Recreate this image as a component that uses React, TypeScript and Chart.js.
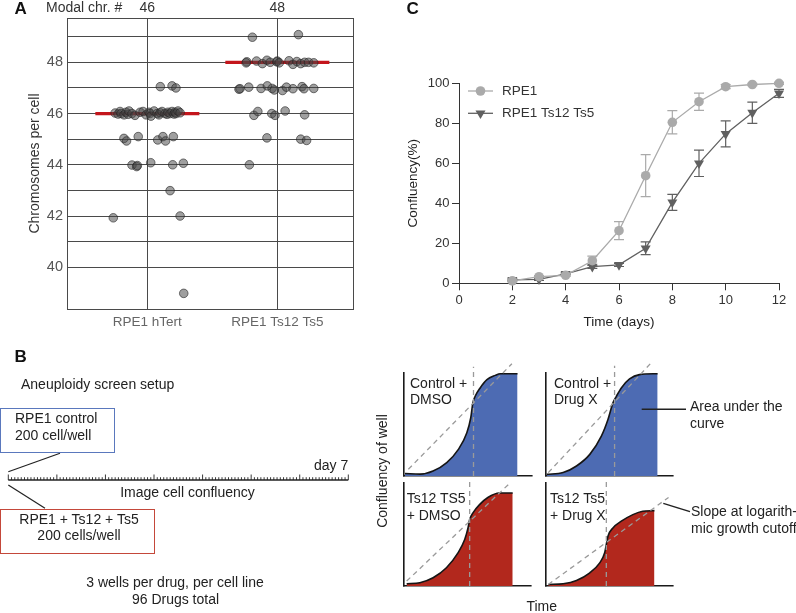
import React, { useEffect, useRef } from 'react';
import { Chart, registerables } from 'chart.js';

Chart.register(...registerables);

const FONT = '"Liberation Sans", Arial, Helvetica, sans-serif';

// ---------------- Panel A data ----------------
const categoriesA = ['RPE1 hTert', 'RPE1 Ts12 Ts5'];
const modalChromosomes = [46, 48];
const medianHalfWidth = [0.4, 0.4];
const yRangeA = [38.37, 49.73];
const xRangeA = [-0.618, 1.582];

const hTertChromosomes = [
  47.05, 47.08, 47.0,
  46.02, 45.98, 46.08, 46.0, 45.95, 46.05, 45.97, 46.1, 46.0, 45.93, 46.05, 46.08, 45.95, 46.05, 46.0, 45.9,
  46.1, 46.0, 45.95, 46.03, 46.08, 46.0, 45.97, 46.05, 46.0, 46.08, 45.98, 46.05, 46.0, 46.1, 46.03,
  45.03, 44.93, 45.1, 44.97, 45.1, 44.93, 45.1,
  43.99, 43.93, 43.97, 44.08, 44.0, 44.06,
  42.99,
  41.93, 42.0,
  38.98,
];
const hTertJitter = [
  0.1, 0.19, 0.22,
  -0.248, -0.225, -0.21, -0.202, -0.179, -0.164, -0.148, -0.141, -0.118, -0.095, -0.056, -0.033, -0.01, 0.013, 0.021, 0.028,
  0.052, 0.075, 0.09, 0.098, 0.113, 0.136, 0.152, 0.159, 0.175, 0.19, 0.205, 0.213, 0.221, 0.236, 0.252,
  -0.18, -0.16, -0.07, 0.08, 0.12, 0.14, 0.2,
  -0.118, -0.082, -0.077, 0.026, 0.195, 0.277,
  0.175,
  -0.262, 0.252,
  0.28,
];

const tsChromosomes = [
  48.98, 49.08,
  48.02, 47.98, 48.05, 47.95, 48.08, 48.0, 48.02, 48.05, 47.98, 48.06, 47.92, 48.03, 47.95, 48.0, 48.0, 47.98,
  46.95, 46.97, 47.03, 46.98, 47.08, 46.98, 46.92, 46.9, 47.03, 46.97, 47.05, 46.97, 46.98,
  45.93, 46.08, 46.0, 45.93, 46.1, 45.95,
  45.05, 45.0, 44.95,
  44.0,
];
const tsJitter = [
  -0.192, 0.162,
  -0.235, -0.24, -0.16, -0.115, -0.08, -0.055, -0.005, 0.0, 0.015, 0.09, 0.12, 0.15, 0.18, 0.21, 0.24, 0.28,
  -0.295, -0.287, -0.22, -0.125, -0.077, -0.04, -0.023, 0.04, 0.07, 0.12, 0.19, 0.205, 0.28,
  -0.18, -0.15, -0.043, -0.018, 0.06, 0.21,
  -0.08, 0.18, 0.225,
  -0.215,
];

// ---------------- Panel C data ----------------
const days = [2, 3, 4, 5, 6, 7, 8, 9, 10, 11, 12];
const rpe1Mean = [1.2, 3.3, 4.0, 11.3, 26.3, 53.8, 80.5, 90.8, 98.3, 99.4, 100];
const rpe1Err = [0.5, 0.5, 0.6, 2.3, 4.5, 10.5, 5.8, 4.3, 1.0, 0.6, 0.5];
const tsMean = [1.7, 2.0, 4.7, 8.3, 9.2, 17.5, 40.5, 60.0, 74.7, 85.3, 95.0];
const tsErr = [0.5, 0.5, 0.5, 0.8, 0.8, 3.2, 4.0, 6.6, 6.5, 5.3, 2.0];
const seriesC = ['RPE1', 'RPE1 Ts12 Ts5'];

// ---------------- Panel B (right) schematic curves ----------------
const ctrlDmsoTime = [0.08, 1.25, 2.27, 3.34, 4.25, 4.91, 5.22, 5.38, 5.56, 5.95, 6.48, 7.13, 7.52, 8.87];
const ctrlDmsoConf = [2.5, 1.8, 4.8, 13.0, 25.8, 42.0, 56.8, 71.0, 77.4, 85.5, 93.5, 97.7, 99.3, 99.3];
const ctrlDrugTime = [0.05, 1.35, 2.4, 3.45, 4.36, 4.88, 5.27, 5.54, 5.93, 6.58, 7.36, 8.79];
const ctrlDrugConf = [1.6, 3.3, 9.7, 21.0, 38.7, 54.8, 71.0, 77.4, 85.5, 94.2, 98.4, 99.3];
const tsDmsoTime = [0.21, 1.25, 2.29, 3.34, 4.25, 4.78, 5.04, 5.17, 5.43, 5.95, 6.6, 7.52, 8.56];
const tsDmsoConf = [2.2, 3.2, 8.0, 17.7, 32.2, 45.1, 56.4, 64.5, 71.0, 79.0, 85.9, 90.3, 90.3];
const tsDrugTime = [0.18, 1.35, 2.4, 3.45, 4.23, 4.62, 4.75, 4.88, 5.27, 5.93, 6.84, 7.62, 8.54];
const tsDrugConf = [1.5, 2.2, 5.4, 12.8, 22.5, 32.2, 40.3, 48.4, 56.4, 62.9, 69.3, 72.6, 73.2];

const ctrlDmsoSlope = { t: [0.34, 8.43], c: [6.5, 109] };
const ctrlDrugSlope = { t: [0.18, 8.27], c: [3.3, 109.7] };
const tsDmsoSlope = { t: [0.21, 8.43], c: [4.8, 101] };
const tsDrugSlope = { t: [0.18, 9.65], c: [1.5, 86] };
const cutoffTimes = [5.43, 5.4, 5.17, 4.75];
const cutoffTop = [106, 107, 102, 102];

// ---------------- helpers ----------------
function ChartBox({ left, top, width, height, config }: any) {
  const ref = useRef<HTMLCanvasElement>(null);
  useEffect(() => {
    const chart = new Chart(ref.current as HTMLCanvasElement, config);
    return () => chart.destroy();
  }, []);
  return (
    <div style={{ position: 'absolute', left, top, width, height }}>
      <canvas ref={ref} width={width} height={height} style={{ width, height, display: 'block' }} />
    </div>
  );
}

function Txt({ x, y, children, align = 'left', size = 14, color = '#222', weight = 400, rotate = false }: any) {
  const lh = size * 1.2;
  let transform = '';
  if (rotate) transform = 'translate(-50%, -50%) rotate(-90deg)';
  else if (align === 'center') transform = 'translateX(-50%)';
  else if (align === 'right') transform = 'translateX(-100%)';
  return (
    <div
      style={{
        position: 'absolute',
        left: x,
        top: rotate ? y : y - lh / 2,
        fontFamily: FONT,
        fontSize: size,
        lineHeight: `${lh}px`,
        color,
        fontWeight: weight,
        whiteSpace: 'nowrap',
        transform,
      }}
    >
      {children}
    </div>
  );
}

// ---------------- Panel A ----------------
const modalLabelPlugin = {
  id: 'modalLabels',
  afterDraw(chart: any) {
    const ctx = chart.ctx;
    const xs = chart.scales.x;
    ctx.save();
    ctx.font = `14px ${FONT}`;
    ctx.fillStyle = '#333';
    ctx.textBaseline = 'middle';
    ctx.textAlign = 'left';
    ctx.fillText('Modal chr. #', 46, 8.5);
    ctx.textAlign = 'center';
    modalChromosomes.forEach((m, i) => ctx.fillText(String(m), xs.getPixelForValue(i), 8.5));
    ctx.restore();
  },
};

const pointStyleA = {
  backgroundColor: 'rgba(70,70,70,0.52)',
  borderColor: 'rgba(35,35,35,0.6)',
  borderWidth: 1,
  pointRadius: 4.3,
};

const configA: any = {
  type: 'scatter',
  data: {
    datasets: [
      { data: hTertChromosomes.map((v, i) => ({ x: 0 + hTertJitter[i], y: v })), ...pointStyleA, order: 1 },
      { data: tsChromosomes.map((v, i) => ({ x: 1 + tsJitter[i], y: v })), ...pointStyleA, order: 1 },
      ...modalChromosomes.map((m, i) => ({
        data: [
          { x: i - medianHalfWidth[i], y: m },
          { x: i + medianHalfWidth[i], y: m },
        ],
        showLine: true,
        borderColor: '#c4161c',
        borderWidth: 3.2,
        pointRadius: 0,
        order: 2,
      })),
    ],
  },
  options: {
    responsive: false,
    animation: false,
    devicePixelRatio: 1,
    layout: { padding: { left: 0, top: 18, right: 12, bottom: 0 } },
    plugins: { legend: { display: false }, tooltip: { enabled: false } },
    scales: {
      x: {
        type: 'linear',
        min: xRangeA[0],
        max: xRangeA[1],
        afterFit: (s: any) => { s.height = 26; },
        ticks: {
          stepSize: 1,
          autoSkip: false,
          maxRotation: 0,
          color: '#666',
          padding: 5,
          font: { family: FONT, size: 13.5 },
          callback: (v: number) => (v === 0 ? categoriesA[0] : v === 1 ? categoriesA[1] : ''),
        },
        grid: { color: '#4a4a4a', lineWidth: 1, drawTicks: false },
        border: { display: true, color: '#4a4a4a', width: 1 },
      },
      y: {
        type: 'linear',
        min: yRangeA[0],
        max: yRangeA[1],
        afterFit: (s: any) => { s.width = 67; },
        ticks: {
          stepSize: 1,
          autoSkip: false,
          color: '#555',
          padding: 4,
          font: { family: FONT, size: 14.5 },
          callback: (v: number) => (Number.isInteger(v) && v % 2 === 0 ? String(v) : ''),
        },
        grid: { color: '#4a4a4a', lineWidth: 1, drawTicks: false },
        border: { display: true, color: '#4a4a4a', width: 1 },
        title: {
          display: true,
          text: 'Chromosomes per cell',
          color: '#333',
          font: { family: FONT, size: 14 },
          padding: { top: 27, bottom: 0 },
        },
      },
    },
  },
  plugins: [modalLabelPlugin],
};

// ---------------- Panel C ----------------
const errorBarPlugin = {
  id: 'errorBars',
  beforeDatasetsDraw(chart: any) {
    const { ctx } = chart;
    const xs = chart.scales.x;
    const ys = chart.scales.y;
    chart.data.datasets.forEach((ds: any) => {
      if (!ds.errors) return;
      ctx.save();
      ctx.strokeStyle = ds.borderColor;
      ctx.lineWidth = 1.2;
      ds.data.forEach((p: any, i: number) => {
        const e = ds.errors[i];
        const px = xs.getPixelForValue(p.x);
        const t = ys.getPixelForValue(p.y + e);
        const b = ys.getPixelForValue(p.y - e);
        ctx.beginPath();
        ctx.moveTo(px, t);
        ctx.lineTo(px, b);
        ctx.moveTo(px - 5, t);
        ctx.lineTo(px + 5, t);
        ctx.moveTo(px - 5, b);
        ctx.lineTo(px + 5, b);
        ctx.stroke();
      });
      ctx.restore();
    });
  },
};

const legendPluginC = {
  id: 'legendC',
  afterDatasetsDraw(chart: any) {
    const { ctx, chartArea } = chart;
    chart.data.datasets.forEach((ds: any, i: number) => {
      const y = chartArea.top + 7.7 + i * 22.3;
      const x0 = chartArea.left + 9;
      const xm = x0 + 12.5;
      ctx.save();
      ctx.strokeStyle = ds.borderColor;
      ctx.fillStyle = ds.backgroundColor;
      ctx.lineWidth = 1.3;
      ctx.beginPath();
      ctx.moveTo(x0, y);
      ctx.lineTo(x0 + 25, y);
      ctx.stroke();
      ctx.beginPath();
      if (ds.pointStyle === 'triangle') {
        const r = ds.pointRadius;
        ctx.moveTo(xm, y + r);
        ctx.lineTo(xm - 0.866 * r, y - 0.5 * r);
        ctx.lineTo(xm + 0.866 * r, y - 0.5 * r);
        ctx.closePath();
      } else {
        ctx.arc(xm, y, ds.pointRadius, 0, Math.PI * 2);
      }
      ctx.fill();
      ctx.font = `13.5px ${FONT}`;
      ctx.fillStyle = '#333';
      ctx.textBaseline = 'middle';
      ctx.textAlign = 'left';
      ctx.fillText(ds.label, x0 + 34, y);
      ctx.restore();
    });
  },
};

const axisC = (min: number, max: number, step: number, title: string, fit: (s: any) => void, titlePad: any) => ({
  type: 'linear',
  min,
  max,
  afterFit: fit,
  ticks: { stepSize: step, color: '#333', padding: 2.5, font: { family: FONT, size: 13 } },
  grid: { display: true, drawOnChartArea: false, drawTicks: true, tickLength: 7, color: '#333', lineWidth: 1 },
  border: { display: true, color: '#333', width: 1 },
  title: { display: true, text: title, color: '#222', font: { family: FONT, size: 13.5 }, padding: titlePad },
});

const configC: any = {
  type: 'line',
  data: {
    datasets: [
      {
        label: seriesC[0],
        data: days.map((d, i) => ({ x: d, y: rpe1Mean[i] })),
        errors: rpe1Err,
        borderColor: '#aaaaaa',
        backgroundColor: '#aaaaaa',
        borderWidth: 1.3,
        pointStyle: 'circle',
        pointRadius: 4.8,
        pointBorderWidth: 0,
        tension: 0,
        clip: false,
      },
      {
        label: seriesC[1],
        data: days.map((d, i) => ({ x: d, y: tsMean[i] })),
        errors: tsErr,
        borderColor: '#606060',
        backgroundColor: '#606060',
        borderWidth: 1.3,
        pointStyle: 'triangle',
        pointRotation: 180,
        pointRadius: 5.8,
        pointBorderWidth: 0,
        tension: 0,
        clip: false,
      },
    ],
  },
  options: {
    responsive: false,
    animation: false,
    devicePixelRatio: 1,
    layout: { padding: { left: 0, top: 13.3, right: 17, bottom: 0 } },
    plugins: { legend: { display: false }, tooltip: { enabled: false } },
    scales: {
      x: axisC(0, 12, 2, 'Time (days)', (s: any) => { s.height = 51.7; }, { top: 0, bottom: 5 }),
      y: axisC(0, 100, 20, 'Confluency(%)', (s: any) => { s.width = 64; }, { top: 10.2, bottom: 0 }),
    },
  },
  plugins: [errorBarPlugin, legendPluginC],
};

// ---------------- Panel B mini charts ----------------
const BLUE = '#4d6bb3';
const RED = '#b2281d';

function miniConfig(time: number[], conf: number[], slope: any, cutT: number, cutTop: number, color: string) {
  const dash = { borderColor: '#9a9a9a', borderWidth: 1.3, borderDash: [5, 4], pointRadius: 0, clip: false, fill: false };
  return {
    type: 'line',
    data: {
      datasets: [
        { data: slope.t.map((t: number, i: number) => ({ x: t, y: slope.c[i] })), ...dash },
        { data: [{ x: cutT, y: 0 }, { x: cutT, y: cutTop }], ...dash },
        {
          data: time.map((t, i) => ({ x: t, y: conf[i] })),
          borderColor: '#151515',
          borderWidth: 1.6,
          backgroundColor: color,
          fill: 'origin',
          pointRadius: 0,
          cubicInterpolationMode: 'monotone',
          clip: false,
        },
      ],
    },
    options: {
      responsive: false,
      animation: false,
      devicePixelRatio: 1,
      layout: { padding: { left: 6, top: 16, right: 18, bottom: 6 } },
      plugins: { legend: { display: false }, tooltip: { enabled: false } },
      scales: {
        x: {
          type: 'linear', min: 0, max: 10,
          afterFit: (s: any) => { s.height = 0; },
          ticks: { display: false },
          grid: { display: false, drawTicks: false, lineWidth: 1.6 },
          border: { display: true, color: '#1a1a1a', width: 1.6 },
        },
        y: {
          type: 'linear', min: 0, max: 100,
          afterFit: (s: any) => { s.width = 0; },
          ticks: { display: false },
          grid: { display: false, drawTicks: false, lineWidth: 1.6 },
          border: { display: true, color: '#1a1a1a', width: 1.6 },
        },
      },
    },
  };
}

const miniPanels = [
  { left: 404, top: 373.3, w: 127.5, h: 103.4, cfg: miniConfig(ctrlDmsoTime, ctrlDmsoConf, ctrlDmsoSlope, cutoffTimes[0], cutoffTop[0], BLUE) },
  { left: 546, top: 373.3, w: 127.3, h: 103.4, cfg: miniConfig(ctrlDrugTime, ctrlDrugConf, ctrlDrugSlope, cutoffTimes[1], cutoffTop[1], BLUE) },
  { left: 404, top: 483, w: 127, h: 103.3, cfg: miniConfig(tsDmsoTime, tsDmsoConf, tsDmsoSlope, cutoffTimes[2], cutoffTop[2], RED) },
  { left: 546, top: 483, w: 127, h: 103.3, cfg: miniConfig(tsDrugTime, tsDrugConf, tsDrugSlope, cutoffTimes[3], cutoffTop[3], RED) },
];

function Timeline() {
  const x0 = 8.3;
  const x1 = 348.3;
  const y = 480;
  const nDays = 7;
  const perDay = 15;
  const ticks: any[] = [];
  const n = nDays * perDay;
  for (let i = 0; i <= n; i++) {
    const x = x0 + ((x1 - x0) * i) / n;
    const major = i % perDay === 0;
    ticks.push(<line key={i} x1={x} x2={x} y1={y} y2={y - (major ? 5.5 : 2.8)} stroke="#222" strokeWidth={0.9} />);
  }
  return (
    <svg width={796} height={613} style={{ position: 'absolute', left: 0, top: 0 }}>
      <line x1={x0} x2={x1} y1={y} y2={y} stroke="#222" strokeWidth={1.4} />
      {ticks}
      <line x1={60} y1={453.3} x2={8.3} y2={471.7} stroke="#222" strokeWidth={1.2} />
      <line x1={8.3} y1={485} x2={45} y2={508.3} stroke="#222" strokeWidth={1.2} />
      <line x1={641.7} y1={409.3} x2={686} y2={409.3} stroke="#222" strokeWidth={1.4} />
      <line x1={663.3} y1={503.3} x2={690} y2={511.7} stroke="#222" strokeWidth={1.4} />
    </svg>
  );
}

export default function App() {
  return (
    <div style={{ position: 'fixed', left: 0, top: 0, width: 796, height: 613, background: '#fff', overflow: 'hidden' }}>
      <ChartBox left={0} top={0} width={365} height={335} config={configA} />
      <ChartBox left={395} top={70} width={401} height={265} config={configC} />
      {miniPanels.map((p, i) => (
        <ChartBox key={i} left={p.left - 6} top={p.top - 16} width={Math.round(p.w + 24)} height={Math.round(p.h + 22)} config={p.cfg} />
      ))}
      <Timeline />

      <Txt x={14.5} y={9.5} size={17} weight={700} color="#111">A</Txt>
      <Txt x={406.5} y={9.5} size={17} weight={700} color="#111">C</Txt>
      <Txt x={14.5} y={357} size={17} weight={700} color="#111">B</Txt>

      <Txt x={21} y={384}>Aneuploidy screen setup</Txt>
      <div style={{ position: 'absolute', left: 0, top: 408.3, width: 115, height: 45, border: '1.5px solid #5a78bd', boxSizing: 'border-box' }} />
      <Txt x={15} y={418.5}>RPE1 control</Txt>
      <Txt x={15} y={435}>200 cell/well</Txt>
      <Txt x={348.3} y={465} align="right">day 7</Txt>
      <Txt x={187.5} y={492.3} align="center">Image cell confluency</Txt>
      <div style={{ position: 'absolute', left: 0, top: 509, width: 155, height: 45, border: '1.5px solid #c4483a', boxSizing: 'border-box' }} />
      <Txt x={79} y={519} align="center">RPE1 + Ts12 + Ts5</Txt>
      <Txt x={79} y={535} align="center">200 cells/well</Txt>
      <Txt x={175} y={582.3} align="center">3 wells per drug, per cell line</Txt>
      <Txt x={175.5} y={599.3} align="center">96 Drugs total</Txt>

      <Txt x={382} y={470.5} rotate>Confluency of well</Txt>
      <Txt x={541.7} y={606.7} align="center">Time</Txt>
      <Txt x={410} y={383.3}>Control +</Txt>
      <Txt x={410} y={399.5}>DMSO</Txt>
      <Txt x={554} y={383.3}>Control +</Txt>
      <Txt x={554} y={399.5}>Drug X</Txt>
      <Txt x={406.7} y={498.7}>Ts12 TS5</Txt>
      <Txt x={406.7} y={515.3}>+ DMSO</Txt>
      <Txt x={550} y={498.7}>Ts12 Ts5</Txt>
      <Txt x={550} y={515.3}>+ Drug X</Txt>
      <Txt x={690} y={406.7}>Area under the</Txt>
      <Txt x={690} y={423.3}>curve</Txt>
      <Txt x={691} y={511.7}>Slope at logarith-</Txt>
      <Txt x={691} y={528.3}>mic growth cutoff</Txt>
    </div>
  );
}
